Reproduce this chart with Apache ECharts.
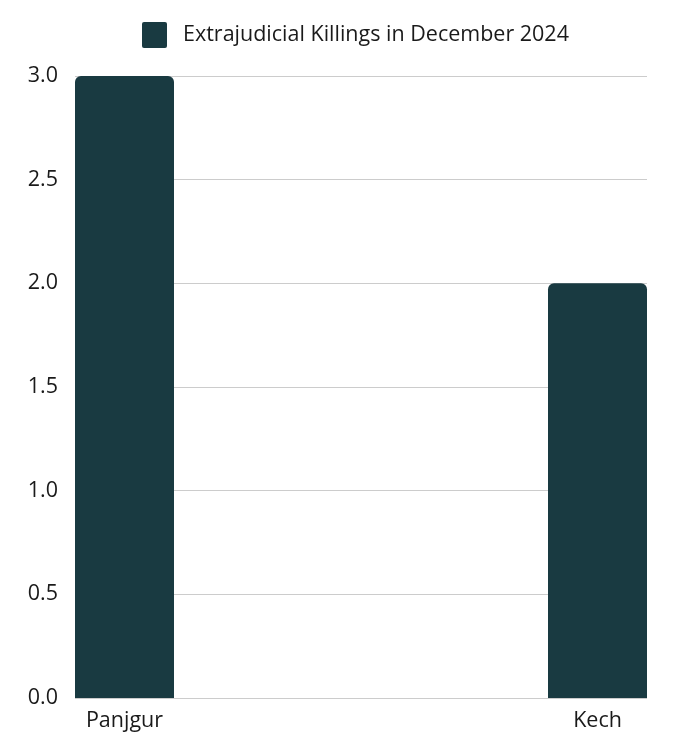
<!DOCTYPE html>
<html>
<head>
<meta charset="utf-8">
<script src="https://cdn.jsdelivr.net/npm/echarts@6/dist/echarts.min.js"></script>
<style>html,body{margin:0;padding:0;background:#fff}#c{width:674px;height:744px}</style>
</head>
<body>
<div id="c"></div>
<script>
const categories = ["Panjgur", "Kech"];
const seriesName = "Extrajudicial Killings in December 2024";
const values = [3, 2];
const yTicks = { min: 0, max: 3, interval: 0.5 };

const color = "#193a41";
const font = "Open Sans";
const fs = 21.5;
const chart = echarts.init(document.getElementById('c'), null, { renderer: 'canvas' });
chart.setOption({
  animation: false,
  textStyle: { fontFamily: font },
  legend: {
    data: [seriesName],
    left: 137, top: 17,
    itemWidth: 25, itemHeight: 26,
    icon: 'path://M2,0 L23,0 Q25,0 25,2 L25,24 Q25,26 23,26 L2,26 Q0,26 0,24 L0,2 Q0,0 2,0 Z',
    textStyle: { fontFamily: font, fontSize: fs, color: '#1a1a1a', padding: [0, 0, 0, 11] }
  },
  grid: [
    { left: 75, right: 27, top: 76, bottom: 46 },
    { left: 124.5, right: 76.5, top: 76, bottom: 46 }
  ],
  xAxis: [
    { gridIndex: 0, type: 'value', show: false, min: 0, max: 1 },
    {
      gridIndex: 1, type: 'category', data: categories, boundaryGap: false,
      axisLine: { show: false }, axisTick: { show: false },
      axisLabel: { fontFamily: font, fontSize: fs, color: '#1a1a1a', margin: 12 }
    }
  ],
  yAxis: [
    {
      gridIndex: 0, type: 'value', min: yTicks.min, max: yTicks.max, interval: yTicks.interval,
      axisLine: { show: false }, axisTick: { show: false },
      axisLabel: { fontFamily: font, fontSize: fs, color: '#1a1a1a', margin: 17,
        formatter: v => v.toFixed(1) },
      splitLine: { lineStyle: { color: '#cccccc', width: 1 } }
    },
    { gridIndex: 1, type: 'value', min: yTicks.min, max: yTicks.max, show: false, splitLine: { show: false } }
  ],
  series: [{
    name: seriesName,
    type: 'bar',
    xAxisIndex: 1, yAxisIndex: 1,
    data: values,
    barWidth: 99,
    clip: false,
    itemStyle: { color: color, borderRadius: [6, 6, 0, 0] }
  }]
});
</script>
</body>
</html>
